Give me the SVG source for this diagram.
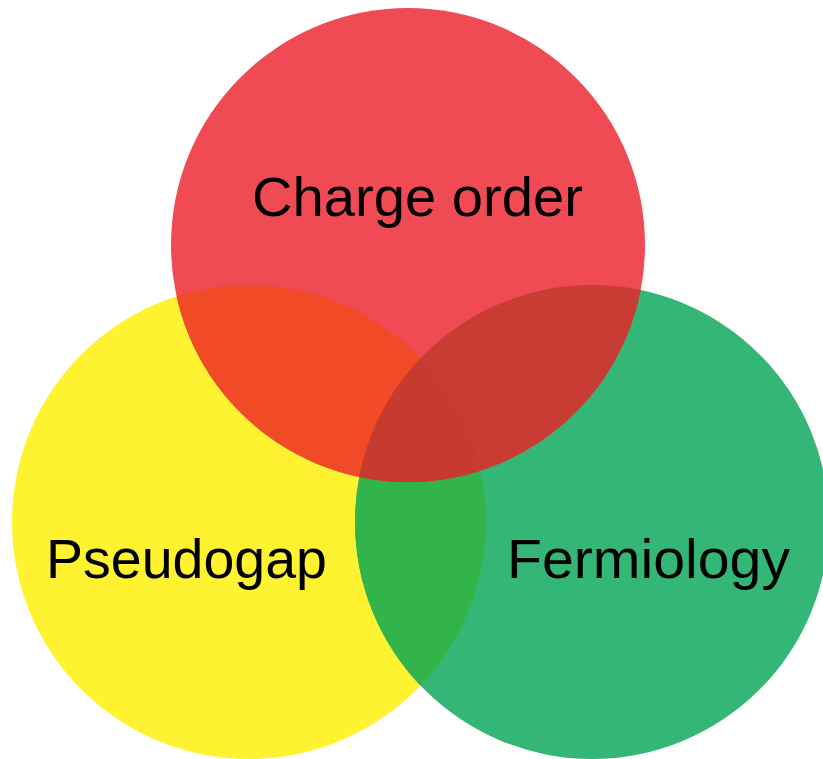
<svg xmlns="http://www.w3.org/2000/svg" width="823" height="759" viewBox="0 0 823 759">
<style>
.lbl{font-family:"Liberation Sans",Arial,sans-serif;font-size:56px;fill:#000}
</style>
<defs>
<clipPath id="cR"><circle cx="408" cy="245" r="237"/></clipPath>
<clipPath id="cY"><circle cx="249" cy="522" r="237"/></clipPath>
<clipPath id="cG"><circle cx="592" cy="522" r="237"/></clipPath>
</defs>
<rect width="823" height="759" fill="#fff"/>
<g id="pseudogap">
<circle cx="249" cy="522" r="237" fill="#FFF231"/>
</g>
<g id="fermiology">
<circle cx="592" cy="522" r="237" fill="#34B776"/>
</g>
<g id="charge-order">
<circle cx="408" cy="245" r="237" fill="#F04B55"/>
</g>
<g id="overlaps">
<g clip-path="url(#cY)"><circle cx="592" cy="522" r="237" fill="#33B44B"/></g>
<g clip-path="url(#cR)"><circle cx="249" cy="522" r="237" fill="#F04A27"/></g>
<g clip-path="url(#cR)"><circle cx="592" cy="522" r="237" fill="#C83C34"/></g>
<g clip-path="url(#cR)"><g clip-path="url(#cY)"><circle cx="592" cy="522" r="237" fill="#C63A2F"/></g></g>
</g>
<g id="labels">
<text class="lbl" x="252" y="216" textLength="331" lengthAdjust="spacingAndGlyphs">Charge order</text>
<text class="lbl" x="46" y="578" textLength="281" lengthAdjust="spacingAndGlyphs">Pseudogap</text>
<text class="lbl" x="507" y="578" textLength="283" lengthAdjust="spacingAndGlyphs">Fermiology</text>
</g>
</svg>
